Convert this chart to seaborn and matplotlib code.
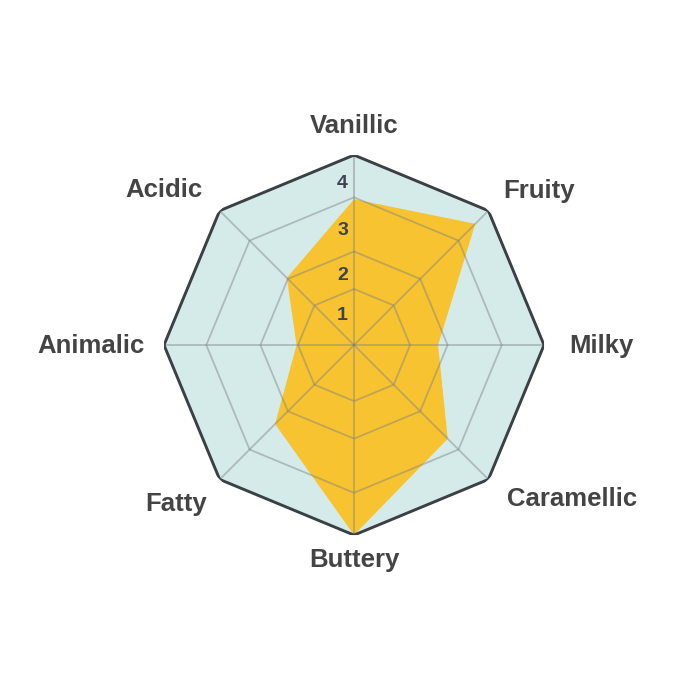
import numpy as np
import matplotlib.pyplot as plt
import matplotlib.transforms as mtransforms
import seaborn as sns

categories = ["Vanillic", "Fruity", "Milky", "Caramellic", "Buttery", "Fatty", "Animalic", "Acidic"]
scores = [3.07, 3.61, 1.77, 2.79, 4.0, 2.35, 1.21, 2.0]
ring_levels = [1.18, 1.97, 3.11, 4.0]
tick_labels = ["1", "2", "3", "4"]
tick_radii = [0.63, 1.47, 2.42, 3.41]

sns.set_theme(style="white")
plt.rcParams["font.family"] = ["Liberation Sans", "DejaVu Sans"]

n = len(categories)
angles = np.linspace(0, 2 * np.pi, n, endpoint=False)
closed = np.append(angles, angles[0])

fig = plt.figure(figsize=(7, 7), dpi=100)
ax = fig.add_axes([0.2343, 0.2356, 0.5429, 0.5429], projection="polar")
ax.set_theta_zero_location("N")
ax.set_theta_direction(-1)
ax.set_ylim(0, 4)
ax.grid(False)
ax.spines["polar"].set_visible(False)
ax.set_xticks([])
ax.set_yticks([])
ax.patch.set_alpha(0)

# background octagon
ax.fill(closed, np.full(n + 1, 4.0), color="#d5ebea", zorder=1)

# data
ax.fill(closed, np.append(scores, scores[0]), color="#f7c331", zorder=2, linewidth=0)

# grid rings and spokes
for level in ring_levels[:-1]:
    ax.plot(closed, np.full(n + 1, level), color="#7a8080", alpha=0.45, lw=1.3, zorder=3)
for a in angles:
    ax.plot([a, a], [0, 4], color="#7a8080", alpha=0.45, lw=1.3, zorder=3)

# outer border
ax.plot(closed, np.full(n + 1, 4.0), color="#3b4045", lw=2.1, zorder=4, solid_joinstyle="miter")

# radial tick labels
offset = mtransforms.offset_copy(ax.transData, fig=fig, x=-6, y=0, units="dots")
for lab, r in zip(tick_labels, tick_radii):
    ax.text(0, r, lab, transform=offset, ha="right", va="center",
            fontsize=14, fontweight="bold", color="#3d4450", zorder=5)

# category labels, placed in pixels relative to each outer vertex
label_offsets = [(0, 22), (15, 13), (25, -8), (19, -27), (0, -32), (-13, -32), (-19, -8), (-17, 14)]
for cat, a, (dx, dy) in zip(categories, angles, label_offsets):
    ha = "center" if dx == 0 else ("left" if dx > 0 else "right")
    ax.annotate(cat, xy=(a, 4.0), xytext=(dx, dy), textcoords="offset pixels",
                ha=ha, va="baseline", fontsize=18.5, fontweight="bold", color="#444444")

fig.savefig("out.png", dpi=100, facecolor="white")
